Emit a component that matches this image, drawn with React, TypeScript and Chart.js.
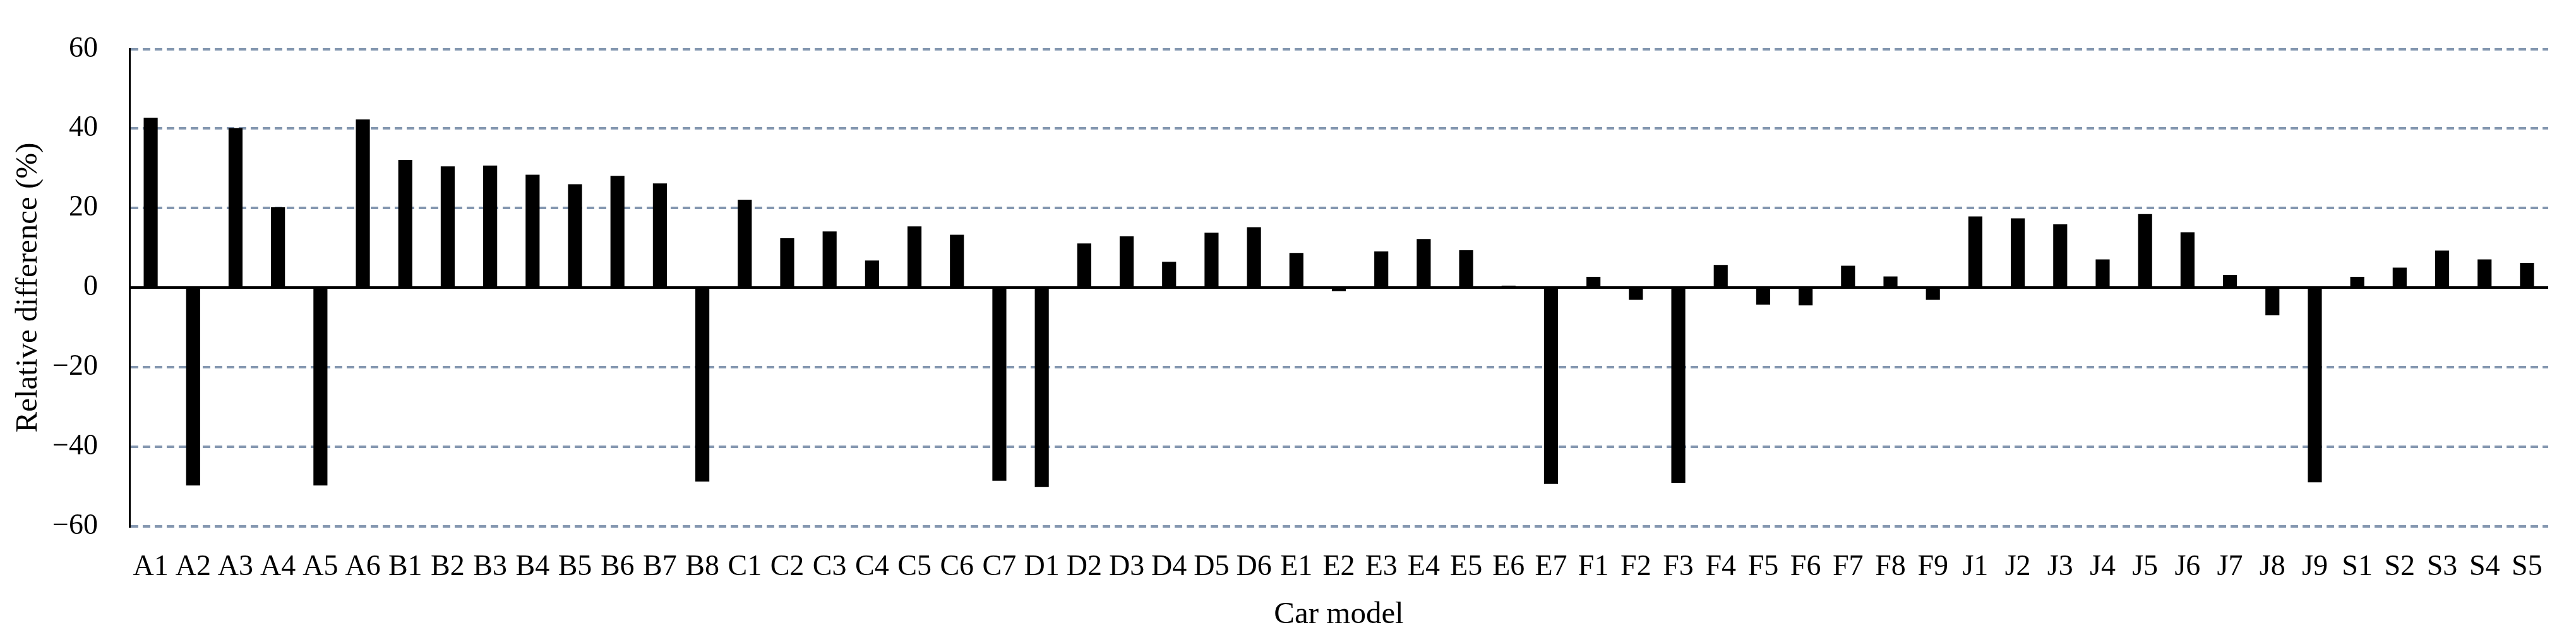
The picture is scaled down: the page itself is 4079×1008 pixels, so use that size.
import React, { useEffect, useRef } from "react";
import { Chart, registerables } from "chart.js";

Chart.register(...registerables);

const categories = [
  "A1", "A2", "A3", "A4", "A5", "A6",
  "B1", "B2", "B3", "B4", "B5", "B6", "B7", "B8",
  "C1", "C2", "C3", "C4", "C5", "C6", "C7",
  "D1", "D2", "D3", "D4", "D5", "D6",
  "E1", "E2", "E3", "E4", "E5", "E6", "E7",
  "F1", "F2", "F3", "F4", "F5", "F6", "F7", "F8", "F9",
  "J1", "J2", "J3", "J4", "J5", "J6", "J7", "J8", "J9",
  "S1", "S2", "S3", "S4", "S5",
];

const relativeDifference = [
  42.7, -49.8, 40.1, 20.2, -49.8, 42.3,
  32.1, 30.5, 30.7, 28.4, 26.0, 28.1, 26.2, -48.8,
  22.1, 12.4, 14.1, 6.8, 15.4, 13.3, -48.6,
  -50.2, 11.1, 12.9, 6.5, 13.8, 15.2,
  8.7, -0.9, 9.1, 12.2, 9.4, 0.5, -49.4,
  2.7, -3.1, -49.1, 5.7, -4.3, -4.5, 5.5, 2.8, -3.1,
  17.9, 17.4, 15.9, 7.1, 18.5, 13.9, 3.2, -7.0, -49.0,
  2.7, 5.0, 9.3, 7.1, 6.2,
];

const yMin = -60;
const yMax = 60;
const yStep = 20;
const yTitle = "Relative difference (%)";
const xTitle = "Car model";

const W = 4079;
const H = 1008;
const FONT = "'Liberation Serif', 'Times New Roman', serif";

const zeroLinePlugin = {
  id: "zeroLine",
  afterDatasetsDraw(chart: any) {
    const { ctx, chartArea, scales } = chart;
    const y = scales.y.getPixelForValue(0);
    ctx.save();
    ctx.strokeStyle = "#000000";
    ctx.lineWidth = 4;
    ctx.setLineDash([]);
    ctx.beginPath();
    ctx.moveTo(chartArea.left, y);
    ctx.lineTo(chartArea.right, y);
    ctx.stroke();
    ctx.restore();
  },
};

export default function App() {
  const ref = useRef<HTMLCanvasElement | null>(null);

  useEffect(() => {
    document.body.style.margin = "0";
    const canvas = ref.current;
    if (!canvas) return;
    const chart = new Chart(canvas, {
      type: "bar",
      data: {
        labels: categories,
        datasets: [
          {
            label: "Relative difference",
            data: relativeDifference,
            backgroundColor: "#000000",
            borderWidth: 0,
            categoryPercentage: 1,
            barPercentage: 0.33,
          },
        ],
      },
      options: {
        animation: false,
        responsive: false,
        devicePixelRatio: 1,
        layout: { padding: { top: 53, right: 44, left: 0, bottom: 0 } },
        plugins: {
          legend: { display: false },
          tooltip: { enabled: false },
        },
        scales: {
          x: {
            grid: { display: false, drawTicks: false },
            border: { display: false },
            ticks: {
              autoSkip: false,
              maxRotation: 0,
              minRotation: 0,
              padding: 38,
              color: "#000000",
              font: { family: FONT, size: 46 },
            },
            title: {
              display: true,
              text: xTitle,
              color: "#000000",
              font: { family: FONT, size: 49 },
              padding: { top: 0, bottom: 5 },
            },
            afterFit(scale: any) {
              scale.height = H - 832.5;
            },
          },
          y: {
            min: yMin,
            max: yMax,
            grid: {
              drawTicks: false,
              color: (ctx: any) =>
                ctx.tick && ctx.tick.value === 0 ? "rgba(0,0,0,0)" : "#8497B0",
              lineWidth: 4,
            },
            border: { display: true, color: "#000000", width: 3, dash: [12, 7] },
            ticks: {
              stepSize: yStep,
              padding: 50,
              color: "#000000",
              font: { family: FONT, size: 46 },
              callback: (v: any) => {
                const n = Number(v);
                return n < 0 ? "\u2212" + Math.abs(n) : String(n);
              },
            },
            title: {
              display: true,
              text: yTitle,
              color: "#000000",
              font: { family: FONT, size: 49 },
              padding: { top: 16, bottom: 0 },
            },
            afterFit(scale: any) {
              scale.width = 205;
            },
          },
        },
      },
      plugins: [zeroLinePlugin],
    });
    return () => chart.destroy();
  }, []);

  return (
    <div style={{ width: W, height: H, background: "#ffffff" }}>
      <canvas ref={ref} width={W} height={H} style={{ display: "block", width: W, height: H }} />
    </div>
  );
}
